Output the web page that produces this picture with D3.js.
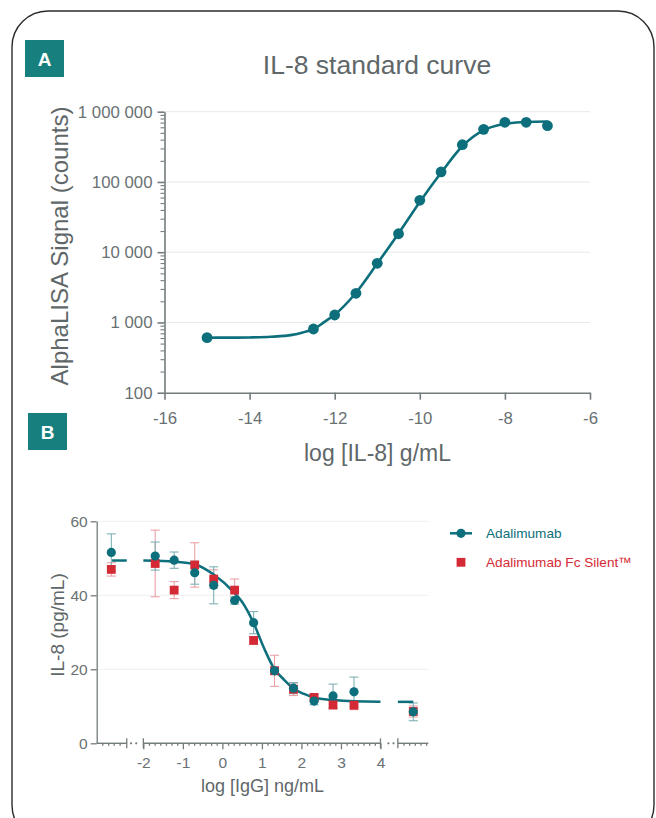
<!DOCTYPE html>
<html><head><meta charset="utf-8">
<script src="https://cdn.jsdelivr.net/npm/d3@7"></script>
<style>
body{margin:0;background:#fff}
svg{display:block}
text{font-family:'Liberation Sans',Arial,Helvetica,sans-serif}
</style>
</head><body>
<svg id="c" width="656" height="818"></svg>
<script>
// ---------- DATA ----------
// Panel A: IL-8 standard curve
const aLogConc = [-15, -12.5, -12, -11.5, -11, -10.5, -10, -9.5, -9, -8.5, -8, -7.5, -7];
const aSignal  = [607, 807, 1276, 2600, 6950, 18300, 54800, 138700, 339000, 561000, 707000, 707000, 632000];
const aFitX = [-15, -14.5, -14, -13.5, -13, -12.75, -12.5, -12.25, -12, -11.5, -11, -10.5, -10, -9.5, -9, -8.5, -8, -7.5, -7];
const aFitY = [607, 608, 612, 625, 665, 720, 800, 1010, 1290, 2650, 6900, 18500, 52000, 135000, 322000, 545000, 670000, 715000, 725000];
const aXTicks = [-16, -14, -12, -10, -8, -6];
const aYTicks = [100, 1000, 10000, 100000, 1000000];

// Panel B: IL-8 release vs IgG
const bLogConc = [-2.81, -1.70, -1.22, -0.70, -0.22, 0.31, 0.79, 1.32, 1.80, 2.32, 2.80, 3.33, 4.83];
const bAdaMean = [51.6, 50.6, 49.5, 46.1, 42.7, 38.6, 32.6, 19.6, 14.9, 11.4, 12.8, 13.9, 8.5];
const bAdaErr  = [5.0, 3.8, 2.2, 3.1, 5.0, 1.0, 3.0, 1.0, 1.5, 1.0, 3.2, 4.0, 2.4];
const bFcMean  = [47.0, 48.6, 41.4, 48.2, 44.4, 41.4, 27.8, 19.6, 14.6, 12.4, 10.4, 10.3, 8.6];
const bFcErr   = [1.8, 9.0, 2.3, 6.0, 2.5, 3.0, 1.0, 4.2, 1.7, 0.8, 1.2, 1.2, 1.5];
const bFitX = [-2, -1.5, -1.2, -0.7, -0.22, 0.31, 0.5, 0.79, 1.05, 1.32, 1.55, 1.8, 2.05, 2.32, 2.8, 3.33, 4];
const bFitY = [49.4, 49.3, 49.1, 48.4, 45.6, 40.6, 38.2, 32.5, 25.8, 20.0, 17.3, 14.8, 13.4, 12.4, 11.7, 11.35, 11.25];
const bFitLeftX = [-2.79, -2.42];
const bFitLeftY = [49.4, 49.4];
const bFitRightX = [4.44, 4.83];
const bFitRightY = [11.2, 11.2];
const bXTicks = [-2, -1, 0, 1, 2, 3, 4];
const bYTicks = [0, 20, 40, 60];
const bAxisSegments = [[-3.18, -2.42], [-2, 4], [4.44, 5.21]];
const bBreaks = [-2.42, -2, 4, 4.44];
const bBreakDots = [-2.31, -2.18, 4.2, 4.33];
const seriesNames = ["Adalimumab", "Adalimumab Fc Silent\u2122"];

// ---------- STYLE ----------
const TEAL = "#0c6f7b", RED = "#d42a35", BOX = "#17807f";
const AXIS = "#737b7d", LABEL = "#697173", GRID = "#e6e9ea";
const TEAL_ERR = "#7fb0b5", RED_ERR = "#eaa1a6";

const svg = d3.select("#c");
svg.append("rect").attr("width", 656).attr("height", 818).attr("fill", "#fff");
// frame
svg.append("rect").attr("x", 12).attr("y", 11).attr("width", 642).attr("height", 830)
  .attr("rx", 36).attr("fill", "none").attr("stroke", "#2b2b2b").attr("stroke-width", 1.4);

// panel label boxes
function panelLabel(x, y, t) {
  svg.append("rect").attr("x", x).attr("y", y).attr("width", 39).attr("height", 37).attr("fill", BOX);
  svg.append("text").attr("x", x + 19.5).attr("y", y + 25.5).attr("text-anchor", "middle")
    .attr("fill", "#fff").attr("font-size", 19).attr("font-weight", "bold").text(t);
}
panelLabel(25, 40, "A");
panelLabel(28, 413, "B");

// ---------- PANEL A ----------
const xA = d3.scaleLinear().domain([-16, -6]).range([164.5, 590]);
const yA = d3.scaleLog().domain([100, 1000000]).range([392.7, 111.7]);
const gA = svg.append("g");

gA.selectAll("line.grid").data(aYTicks.slice(1)).join("line")
  .attr("x1", xA(-16)).attr("x2", xA(-6)).attr("y1", d => yA(d)).attr("y2", d => yA(d))
  .attr("stroke", GRID).attr("stroke-width", 1);

svg.append("text").attr("x", 377).attr("y", 74).attr("text-anchor", "middle")
  .attr("font-size", 26.5).attr("fill", "#5f6769").text("IL-8 standard curve");

const fmtSp = d3.formatLocale({decimal: ".", thousands: " ", grouping: [3], currency: ["", ""]}).format(",d");

const axA_x = gA.append("g").attr("transform", `translate(0,${yA(100)})`)
  .call(d3.axisBottom(xA).tickValues(aXTicks).tickSize(7).tickSizeOuter(0).tickPadding(12).tickFormat(d => String(d)));
const axA_y = gA.append("g").attr("transform", `translate(${xA(-16)},0)`)
  .call(d3.axisLeft(yA).tickValues(aYTicks).tickSize(7).tickSizeOuter(0).tickPadding(5).tickFormat(d => fmtSp(d)));
const minorA = yA.ticks().filter(v => Math.abs(Math.log10(v) - Math.round(Math.log10(v))) > 1e-6);
const axA_ym = gA.append("g").attr("transform", `translate(${xA(-16)},0)`)
  .call(d3.axisLeft(yA).tickValues(minorA).tickSize(4).tickFormat(""));
axA_ym.select(".domain").remove();
[axA_x, axA_y, axA_ym].forEach(g => {
  g.selectAll("path,line").attr("stroke", AXIS).attr("stroke-width", 1.6);
  g.selectAll("text").attr("fill", LABEL).attr("font-size", 16.8).attr("font-family", "'Liberation Sans',Arial,sans-serif");
});
axA_ym.selectAll("line").attr("stroke-width", 1.1);

gA.append("text").attr("x", 377.5).attr("y", 460.5).attr("text-anchor", "middle")
  .attr("font-size", 23).attr("fill", "#5f6769").text("log [IL-8] g/mL");
gA.append("text").attr("transform", "translate(68,246) rotate(-90)").attr("text-anchor", "middle")
  .attr("font-size", 24).attr("fill", "#5f6769").text("AlphaLISA Signal (counts)");

const lineA = d3.line().x(d => xA(d[0])).y(d => yA(d[1])).curve(d3.curveMonotoneX);
gA.append("path").datum(aFitX.map((x, i) => [x, aFitY[i]])).attr("d", lineA)
  .attr("fill", "none").attr("stroke", TEAL).attr("stroke-width", 2.6);
gA.selectAll("circle.pt").data(aLogConc.map((x, i) => [x, aSignal[i]])).join("circle")
  .attr("cx", d => xA(d[0])).attr("cy", d => yA(d[1])).attr("r", 5.4).attr("fill", TEAL);

// ---------- PANEL B ----------
const xB = d3.scaleLinear().domain([-3.18, 5.21]).range([96.7, 428.3]);
const yB = d3.scaleLinear().domain([0, 60]).range([743.3, 521.3]);
const gB = svg.append("g");

gB.selectAll("line.grid").data(bYTicks.slice(1)).join("line")
  .attr("x1", xB(-3.18)).attr("x2", xB(5.21)).attr("y1", d => yB(d)).attr("y2", d => yB(d))
  .attr("stroke", "#eef0f0").attr("stroke-width", 1);

// y axis
const axB_y = gB.append("g").attr("transform", `translate(${xB(-3.18)},0)`)
  .call(d3.axisLeft(yB).tickValues(bYTicks).tickSize(6).tickSizeOuter(0).tickPadding(3).tickFormat(d => String(d)));
// x axis majors
const axB_x = gB.append("g").attr("transform", `translate(0,${yB(0)})`)
  .call(d3.axisBottom(xB).tickValues(bXTicks).tickSize(6).tickPadding(8).tickFormat(d => String(d)));
axB_x.select(".domain").remove();
// minor ticks
const minorB = [];
for (let a = -2; a < 4; a++) for (let k = 1; k < 7; k++) minorB.push(a + k / 7);
[-3.04, -2.89, -2.75, -2.60].forEach(v => minorB.push(v));
[1, 2, 3, 4, 5].forEach(k => minorB.push(4.44 + k / 7));
const axB_xm = gB.append("g").attr("transform", `translate(0,${yB(0)})`)
  .call(d3.axisBottom(xB).tickValues(minorB).tickSize(2.5).tickFormat(""));
axB_xm.select(".domain").remove();
[axB_y, axB_x, axB_xm].forEach(g => {
  g.selectAll("path,line").attr("stroke", AXIS).attr("stroke-width", 1.3);
  g.selectAll("text").attr("fill", LABEL).attr("font-size", 15.5).attr("font-family", "'Liberation Sans',Arial,sans-serif");
});
// axis segments
gB.selectAll("line.seg").data(bAxisSegments).join("line")
  .attr("x1", d => xB(d[0])).attr("x2", d => xB(d[1])).attr("y1", yB(0)).attr("y2", yB(0))
  .attr("stroke", AXIS).attr("stroke-width", 1.4);
gB.selectAll("line.brk").data(bBreaks).join("line")
  .attr("x1", d => xB(d)).attr("x2", d => xB(d)).attr("y1", yB(0) - 5).attr("y2", yB(0) + 5)
  .attr("stroke", AXIS).attr("stroke-width", 1.3);
gB.selectAll("circle.dot").data(bBreakDots).join("circle")
  .attr("cx", d => xB(d)).attr("cy", yB(0)).attr("r", 1.1).attr("fill", AXIS);

gB.append("text").attr("x", 262.5).attr("y", 791.7).attr("text-anchor", "middle")
  .attr("font-size", 18).attr("fill", "#5f6769").text("log [IgG] ng/mL");
gB.append("text").attr("transform", "translate(63.5,625) rotate(-90)").attr("text-anchor", "middle")
  .attr("font-size", 19).attr("fill", "#5f6769").text("IL-8 (pg/mL)");

// error bars
function errBars(means, errs, color) {
  const d = bLogConc.map((x, i) => ({x, m: means[i], e: errs[i]}));
  const g = gB.append("g").attr("stroke", color).attr("stroke-width", 1.1).attr("fill", "none");
  g.selectAll("line.v").data(d).join("line")
    .attr("x1", p => xB(p.x)).attr("x2", p => xB(p.x)).attr("y1", p => yB(p.m - p.e)).attr("y2", p => yB(p.m + p.e));
  g.selectAll("line.t").data(d).join("line")
    .attr("x1", p => xB(p.x) - 4.5).attr("x2", p => xB(p.x) + 4.5).attr("y1", p => yB(p.m + p.e)).attr("y2", p => yB(p.m + p.e));
  g.selectAll("line.b").data(d).join("line")
    .attr("x1", p => xB(p.x) - 4.5).attr("x2", p => xB(p.x) + 4.5).attr("y1", p => yB(p.m - p.e)).attr("y2", p => yB(p.m - p.e));
}
errBars(bFcMean, bFcErr, RED_ERR);
errBars(bAdaMean, bAdaErr, TEAL_ERR);

// fit curve
const lineB = d3.line().x(d => xB(d[0])).y(d => yB(d[1])).curve(d3.curveMonotoneX);
[[bFitX, bFitY], [bFitLeftX, bFitLeftY], [bFitRightX, bFitRightY]].forEach(([xs, ys]) => {
  gB.append("path").datum(xs.map((x, i) => [x, ys[i]])).attr("d", lineB)
    .attr("fill", "none").attr("stroke", TEAL).attr("stroke-width", 2.5);
});

// markers
gB.selectAll("rect.sq").data(bLogConc.map((x, i) => [x, bFcMean[i]])).join("rect")
  .attr("x", d => xB(d[0]) - 4.4).attr("y", d => yB(d[1]) - 4.4).attr("width", 8.8).attr("height", 8.8)
  .attr("fill", RED);
gB.selectAll("circle.ci").data(bLogConc.map((x, i) => [x, bAdaMean[i]])).join("circle")
  .attr("cx", d => xB(d[0])).attr("cy", d => yB(d[1])).attr("r", 4.6).attr("fill", TEAL);

// legend
const lg = svg.append("g");
lg.append("line").attr("x1", 450).attr("x2", 472).attr("y1", 533.3).attr("y2", 533.3)
  .attr("stroke", TEAL).attr("stroke-width", 2.5);
lg.append("circle").attr("cx", 461).attr("cy", 533.3).attr("r", 4.6).attr("fill", TEAL);
lg.append("rect").attr("x", 456.6).attr("y", 557.9).attr("width", 8.8).attr("height", 8.8).attr("fill", RED);
lg.append("text").attr("x", 486).attr("y", 538.3).attr("font-size", 13.6).attr("fill", TEAL).text(seriesNames[0]);
lg.append("text").attr("x", 486).attr("y", 567).attr("font-size", 13.6).attr("fill", RED).text(seriesNames[1]);
</script>
</body></html>
